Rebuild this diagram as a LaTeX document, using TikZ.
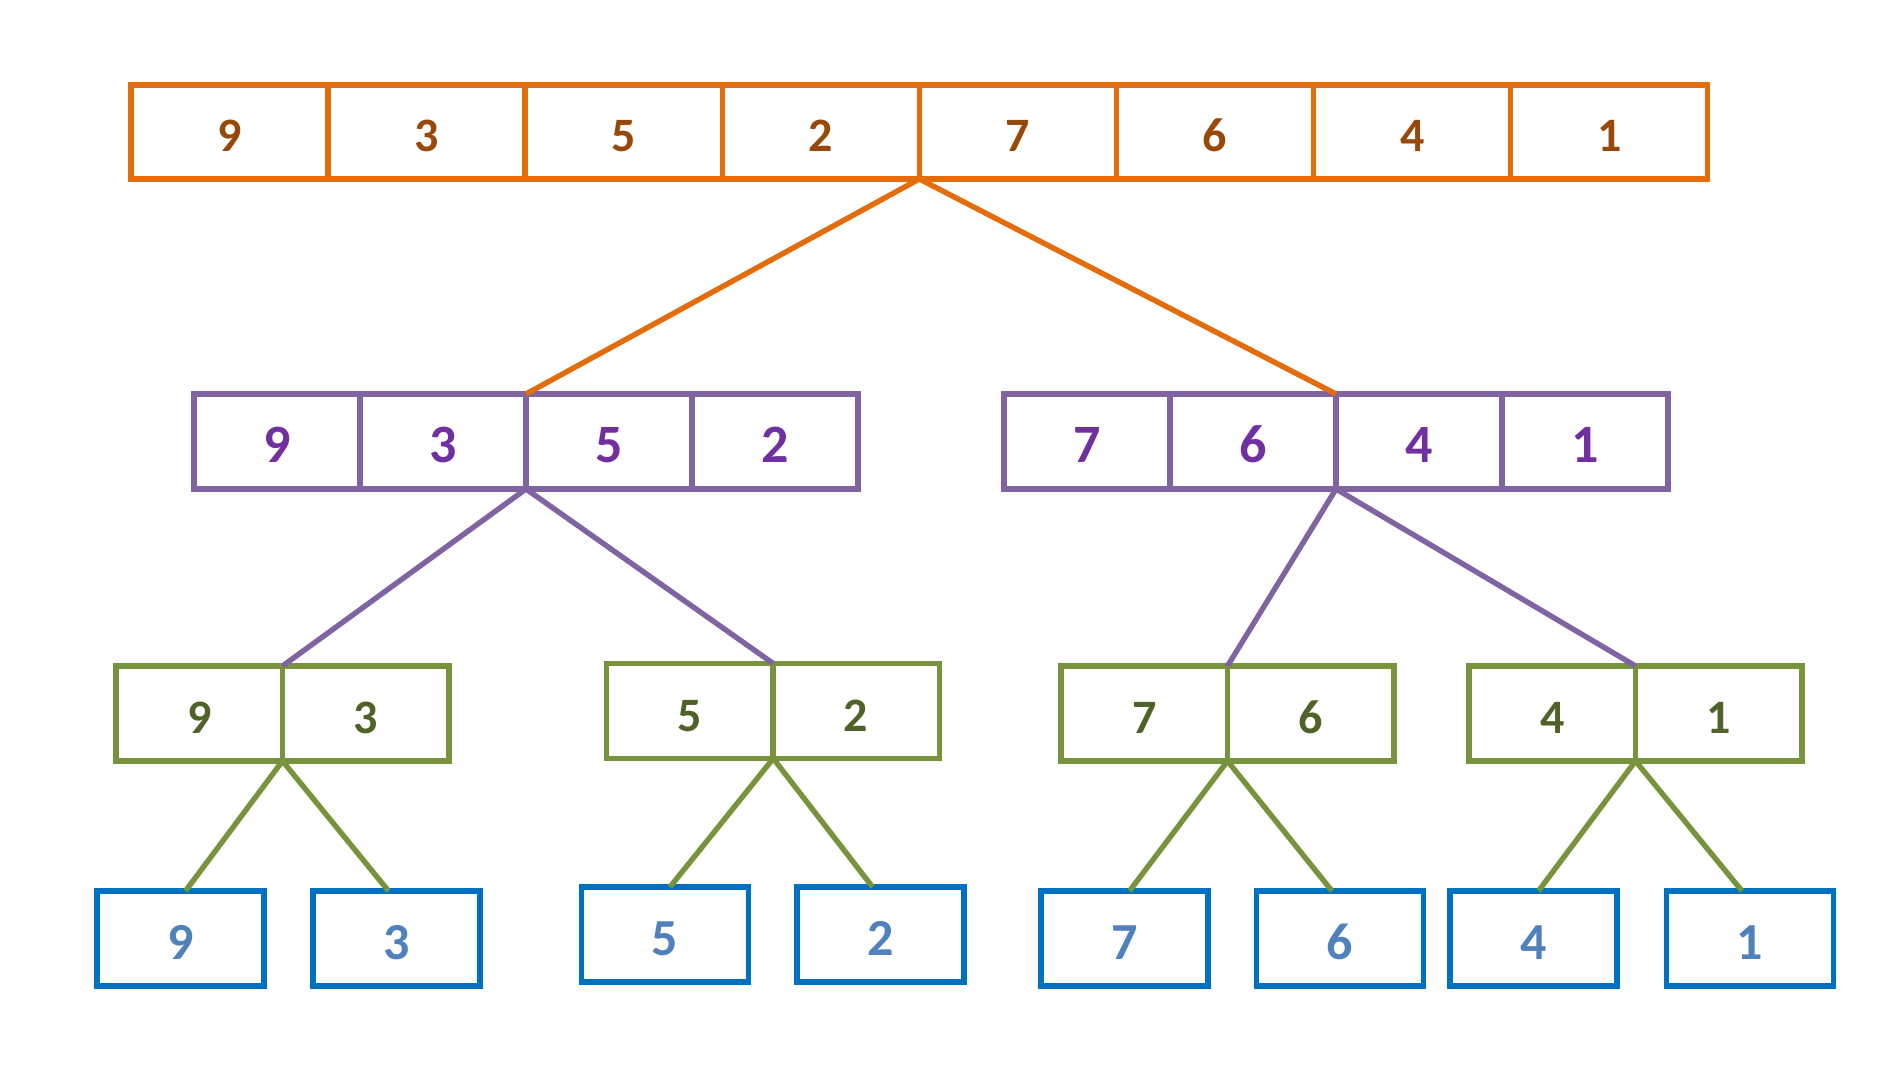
\documentclass[tikz,border=0pt]{standalone}
\usepackage{fontspec}
\setmainfont{Carlito}
\definecolor{oline}{HTML}{E46C0A}
\definecolor{otext}{HTML}{984807}
\definecolor{pline}{HTML}{8064A2}
\definecolor{ptext}{HTML}{7030A0}
\definecolor{gline}{HTML}{77933C}
\definecolor{gtext}{HTML}{4F6228}
\definecolor{bline}{HTML}{0070C0}
\definecolor{btext}{HTML}{4F81BD}
\begin{document}
\begin{tikzpicture}[x=0.5pt,y=-0.5pt,
  cell/.style={draw,line width=2.7pt,inner sep=0pt,outer sep=0pt,minimum height=47.5pt,text depth=0pt,text height=20pt,font=\bfseries\fontsize{24}{24}\selectfont},
  ocell/.style={cell,draw=oline,text=otext,minimum width=98.5pt,minimum height=47pt},
  pcell/.style={cell,draw=pline,text=ptext,minimum width=83pt,text height=21.5pt,font=\bfseries\fontsize{27}{27}\selectfont},
  gcell/.style={cell,draw=gline,text=gtext,minimum width=83.25pt},
  bcell/.style={cell,draw=bline,text=btext,minimum width=83.5pt,text height=21pt,font=\bfseries\fontsize{26}{26}\selectfont},
  oedge/.style={draw=oline,line width=2.7pt},
  pedge/.style={draw=pline,line width=2.7pt},
  gedge/.style={draw=gline,line width=2.7pt}]
\path[use as bounding box] (0,0) rectangle (1901,1074);
% top row
\foreach \v [count=\i] in {9,3,5,2,7,6,4,1}{
  \node[ocell] (t\i) at ({131+98.55+197.1*(\i-1)},132) {\v};
}
% level 2
\foreach \v [count=\i] in {9,3,5,2}{
  \node[pcell] (l\i) at ({194+83+166*(\i-1)},441.5) {\v};
}
\foreach \v [count=\i] in {7,6,4,1}{
  \node[pcell] (r\i) at ({1004+83+166*(\i-1)},441.5) {\v};
}
% level 3
\node[gcell] (a1) at (199.25,713.5) {9};
\node[gcell] (a2) at (365.75,713.5) {3};
\node[gcell] (b1) at (690,711) {5};
\node[gcell] (b2) at (856,711) {2};
\node[gcell] (c1) at (1144.25,713.5) {7};
\node[gcell] (c2) at (1310.75,713.5) {6};
\node[gcell] (d1) at (1552.25,713.5) {4};
\node[gcell] (d2) at (1718.75,713.5) {1};
% level 4
\node[bcell] (e1) at (180.5,938.5) {9};
\node[bcell] (e2) at (396.5,938.5) {3};
\node[bcell] (e3) at (665,934.5) {5};
\node[bcell] (e4) at (880.5,934.5) {2};
\node[bcell] (e5) at (1124.5,938.5) {7};
\node[bcell] (e6) at (1340,938.5) {6};
\node[bcell] (e7) at (1533.5,938.5) {4};
\node[bcell] (e8) at (1750,938.5) {1};
% connectors
\draw[oedge] (t4.south east) -- (l2.north east);
\draw[oedge] (t4.south east) -- (r2.north east);
\draw[pedge] (l2.south east) -- (a1.north east);
\draw[pedge] (l2.south east) -- (b1.north east);
\draw[pedge] (r2.south east) -- (c1.north east);
\draw[pedge] (r2.south east) -- (d1.north east);
\draw[gedge] (a1.south east) -- ([xshift=2.5pt]e1.north);
\draw[gedge] (a1.south east) -- ([xshift=-4pt]e2.north);
\draw[gedge] (b1.south east) -- ([xshift=2.5pt]e3.north);
\draw[gedge] (b1.south east) -- ([xshift=-4pt]e4.north);
\draw[gedge] (c1.south east) -- ([xshift=2.5pt]e5.north);
\draw[gedge] (c1.south east) -- ([xshift=-4pt]e6.north);
\draw[gedge] (d1.south east) -- ([xshift=2.5pt]e7.north);
\draw[gedge] (d1.south east) -- ([xshift=-4pt]e8.north);
\end{tikzpicture}
\end{document}
